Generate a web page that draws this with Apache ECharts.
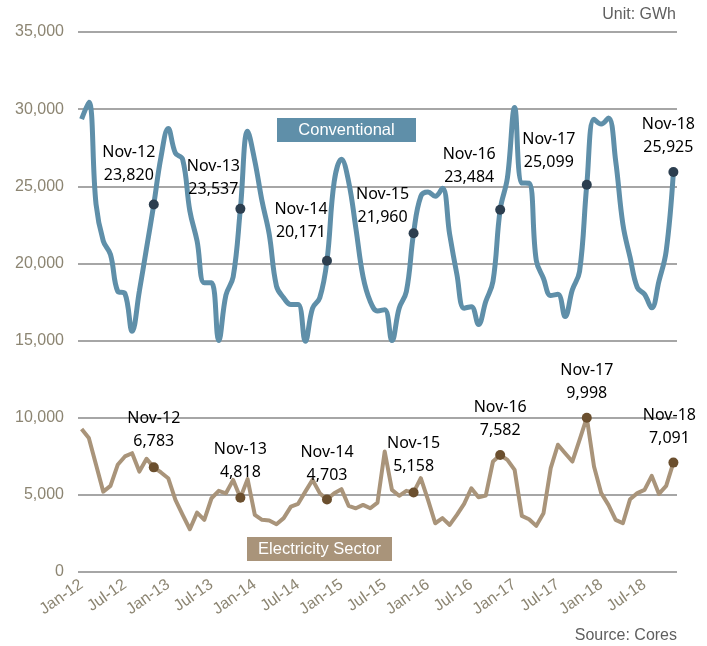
<!DOCTYPE html>
<html>
<head>
<meta charset="utf-8">
<script src="https://cdn.jsdelivr.net/npm/echarts@6/dist/echarts.min.js"></script>
<style>
  html, body { margin: 0; padding: 0; background: #fff; }
  #chart { width: 707px; height: 646px; }
</style>
</head>
<body>
<div id="chart"></div>
<script>
// months Jan-12 .. Nov-18
var monthNames = ['Jan', 'Feb', 'Mar', 'Apr', 'May', 'Jun', 'Jul', 'Aug', 'Sep', 'Oct', 'Nov', 'Dec'];
var years = ['12', '13', '14', '15', '16', '17', '18'];
var categories = [];
years.forEach(function (y, yi) {
    monthNames.forEach(function (m, mi) {
        if (yi === years.length - 1 && mi > 10) return;
        categories.push(m + '-' + y);
    });
});

var conventional = [
    29350, 30450, 23830, 21450, 20580, 18200, 18050, 15600, 18200, 21000, 23820,
    26900, 28750, 27150, 26750, 23400, 21450, 18750, 18750, 15000, 17950, 19130, 23537,
    28570, 26640, 24040, 21880, 18530, 17770, 17340, 17340, 14960, 17100, 17770, 20171,
    25300, 26750, 25300, 22290, 19130, 17530, 16920, 17000, 15000, 17100, 18180, 21960,
    24350, 24630, 24350, 24870, 21880, 19290, 17100, 17200, 16040, 17530, 18830, 23484,
    25540, 30100, 25210, 25200, 20200, 19020, 17920, 18000, 16560, 18290, 19480, 25099,
    29350, 29030, 29420, 26650, 22550, 20390, 18440, 18000, 17120, 18850, 20800, 25925
];

var electricity = [
    9270, 8680, 6950, 5210, 5580, 6950, 7490, 7700, 6510, 7340, 6783,
    6450, 6080, 4680, 3700, 2770, 3850, 3380, 4780, 5260, 5100, 5970, 4818,
    6020, 3700, 3380, 3340, 3100, 3490, 4240, 4420, 5210, 5970, 5110, 4703,
    5110, 5370, 4290, 4130, 4350, 4130, 4500, 7810, 5320, 4940, 5260, 5158,
    6080, 4680, 3160, 3490, 3050, 3700, 4420, 5430, 4850, 4950, 7160, 7582,
    7270, 6620, 3640, 3420, 2990, 3810, 6730, 8250, 7700, 7160, 8570, 9998,
    6840, 5110, 4350, 3380, 3160, 4720, 5110, 5320, 6230, 5060, 5580, 7091
];

var yTicks = [0, 5000, 10000, 15000, 20000, 25000, 30000, 35000];

// labelled points (every November)
var labelIdx = [10, 22, 34, 46, 58, 70, 82];
// label offsets from the dot (layout only)
var convOffsets = [[-25, -41], [-27, -31], [-26, -40], [-31, -27], [-31, -44], [-38, -34], [-5, -36]];
var elecOffsets = [[0, -37], [0, -37], [0, -36], [0, -37], [0, -36], [0, -36], [-4, -36]];

function fmt(v) {
    return v.toLocaleString('en-US');
}

function buildData(values, offsets, dotColor) {
    return values.map(function (v, i) {
        var k = labelIdx.indexOf(i);
        if (k < 0) return v;
        return {
            value: v,
            symbol: 'circle',
            symbolSize: 10,
            itemStyle: {color: dotColor, borderWidth: 0},
            label: {
                show: true,
                position: 'inside',
                offset: offsets[k],
                formatter: categories[i] + '\n' + fmt(v),
                color: '#000',
                fontFamily: 'Noto Sans',
                fontSize: 16,
                lineHeight: 23,
                align: 'center'
            }
        };
    });
}

var axisFont = "'Liberation Sans', Arial";
var axisColor = '#8c8572';

var chart = echarts.init(document.getElementById('chart'), null, {renderer: 'canvas'});
var option = {
    animation: false,
    grid: {left: 78, right: 30, top: 32, bottom: 74, containLabel: false},
    xAxis: {
        type: 'category',
        data: categories,
        boundaryGap: true,
        axisLine: {show: false},
        axisTick: {show: false},
        axisLabel: {
            interval: 5,
            rotate: 35,
            margin: 11,
            color: axisColor,
            fontFamily: axisFont,
            fontSize: 16
        }
    },
    yAxis: {
        type: 'value',
        min: yTicks[0],
        max: yTicks[yTicks.length - 1],
        interval: 5000,
        axisLine: {show: false},
        axisTick: {show: false},
        axisLabel: {
            margin: 14,
            color: axisColor,
            fontFamily: axisFont,
            fontSize: 16,
            formatter: function (v) { return fmt(v); }
        },
        splitLine: {lineStyle: {color: '#a6a6a6', width: 2}}
    },
    series: [
        {
            name: 'Conventional',
            type: 'line',
            data: buildData(conventional, convOffsets, '#2c3e4f'),
            smooth: 0.4,
            symbol: 'none',
            showAllSymbol: true,
            lineStyle: {color: '#5f8fa9', width: 5},
            itemStyle: {color: '#5f8fa9'},
            z: 3
        },
        {
            name: 'Electricity Sector',
            type: 'line',
            data: buildData(electricity, elecOffsets, '#6b4f2e'),
            smooth: false,
            symbol: 'none',
            showAllSymbol: true,
            lineStyle: {color: '#a9947a', width: 4, join: 'round'},
            itemStyle: {color: '#a9947a'},
            z: 3
        }
    ],
    graphic: [
        {
            type: 'group', left: 277, top: 118,
            children: [
                {type: 'rect', shape: {x: 0, y: 0, width: 139, height: 24}, style: {fill: '#5f8fa9'}},
                {type: 'text', x: 69.5, y: 12, style: {text: 'Conventional', fill: '#fff', font: "16.5px 'Liberation Sans'", textAlign: 'center', textVerticalAlign: 'middle'}}
            ]
        },
        {
            type: 'group', left: 247, top: 537,
            children: [
                {type: 'rect', shape: {x: 0, y: 0, width: 145, height: 24}, style: {fill: '#a9947a'}},
                {type: 'text', x: 72.5, y: 12, style: {text: 'Electricity Sector', fill: '#fff', font: "16.5px 'Liberation Sans'", textAlign: 'center', textVerticalAlign: 'middle'}}
            ]
        },
        {
            type: 'text', right: 31, top: 7,
            style: {text: 'Unit: GWh', fill: '#5f5f5f', font: "16px 'Liberation Sans'"}
        },
        {
            type: 'text', right: 30, top: 628,
            style: {text: 'Source: Cores', fill: '#5f5f5f', font: "16px 'Liberation Sans'"}
        }
    ]
};
chart.setOption(option);
</script>
</body>
</html>
